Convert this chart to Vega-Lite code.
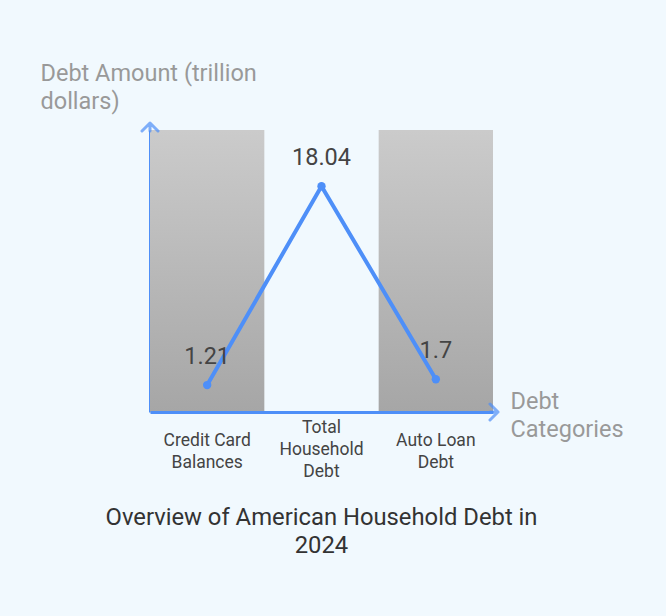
{
  "$schema": "https://vega.github.io/schema/vega-lite/v6.json",
  "autosize": "none",
  "width": 343,
  "height": 282,
  "padding": {"left": 150, "top": 130, "right": 173, "bottom": 204},
  "background": "#f1f9fe",
  "config": {"view": {"stroke": null}, "font": "Roboto"},
  "title": {
    "text": ["Overview of American Household Debt in", "2024"],
    "orient": "bottom",
    "anchor": "middle",
    "fontSize": 23.8,
    "fontWeight": "normal",
    "color": "#333333",
    "lineHeight": 28,
    "offset": 26
  },
  "data": {
    "values": [
      {"category": "Credit Card Balances", "value": 1.21},
      {"category": "Total Household Debt", "value": 18.04},
      {"category": "Auto Loan Debt", "value": 1.7}
    ]
  },
  "encoding": {
    "x": {
      "field": "category",
      "type": "nominal",
      "sort": null,
      "scale": {"domain": ["Credit Card Balances", "Total Household Debt", "Auto Loan Debt"], "paddingInner": 0, "paddingOuter": 0},
      "axis": {
        "domainColor": "#4e8ff8",
        "domainWidth": 3,
        "ticks": false,
        "grid": false,
        "labelAngle": 0,
        "labelFontSize": 17.5,
        "labelColor": "#444444",
        "labelLineHeight": 22,
        "labelBaseline": "middle",
        "labelPadding": {"condition": {"test": "datum.value == 'Total Household Debt'", "value": 15}, "value": 28},
        "labelExpr": "datum.value == 'Credit Card Balances' ? ['Credit Card', 'Balances'] : datum.value == 'Total Household Debt' ? ['Total', 'Household', 'Debt'] : ['Auto Loan', 'Debt']",
        "title": ["Debt", "Categories"],
        "titleFontSize": 23.5,
        "titleFontWeight": "normal",
        "titleColor": "#999999",
        "titleAlign": "left",
        "titleBaseline": "alphabetic",
        "titleAngle": 0,
        "titleX": 360,
        "titleY": -4,
        "titleLineHeight": 28
      }
    }
  },
  "layer": [
    {
      "transform": [{"filter": {"field": "category", "oneOf": ["Credit Card Balances", "Auto Loan Debt"]}}],
      "mark": {
        "type": "rect",
        "color": {
          "gradient": "linear",
          "x1": 0, "y1": 0, "x2": 0, "y2": 1,
          "stops": [
            {"offset": 0, "color": "#cbcbcb"},
            {"offset": 1, "color": "#a6a6a6"}
          ]
        }
      }
    },
    {
      "mark": {
        "type": "line",
        "color": "#4e8ff8",
        "strokeWidth": 4,
        "point": {"filled": true, "size": 70, "color": "#4e8ff8"}
      },
      "encoding": {
        "y": {
          "field": "value",
          "type": "quantitative",
          "scale": {"domain": [-1.07, 22.8], "nice": false, "zero": false},
          "axis": {
            "domainColor": "#4e8ff8",
            "domainWidth": 3,
            "ticks": false,
            "labels": false,
            "grid": false,
            "title": ["Debt Amount (trillion", "dollars)"],
            "titleFontSize": 23.5,
            "titleFontWeight": "normal",
            "titleColor": "#999999",
            "titleAngle": 0,
            "titleAlign": "left",
            "titleBaseline": "alphabetic",
            "titleX": -110,
            "titleY": -50,
            "titleLineHeight": 28
          }
        }
      }
    },
    {
      "mark": {"type": "text", "dy": -28, "fontSize": 23.5, "color": "#444444"},
      "encoding": {
        "y": {"field": "value", "type": "quantitative"},
        "text": {"field": "value", "type": "quantitative", "format": ".4~f"}
      }
    },
    {
      "data": {"values": [{"axis": "y"}]},
      "mark": {
        "type": "point",
        "shape": "M-1,1L0,0L1,1M0,0L0,1",
        "filled": false,
        "size": 256,
        "stroke": "#4e8ff8",
        "strokeWidth": 3,
        "strokeCap": "round",
        "strokeJoin": "round"
      },
      "encoding": {"x": {"value": 0}, "y": {"value": -7}}
    },
    {
      "data": {"values": [{"axis": "x"}]},
      "mark": {
        "type": "point",
        "shape": "M-1,-1L0,0L-1,1M0,0L-1,0",
        "filled": false,
        "size": 256,
        "stroke": "#4e8ff8",
        "strokeWidth": 3,
        "strokeCap": "round",
        "strokeJoin": "round"
      },
      "encoding": {"x": {"value": 348}, "y": {"value": 282}}
    }
  ]
}
